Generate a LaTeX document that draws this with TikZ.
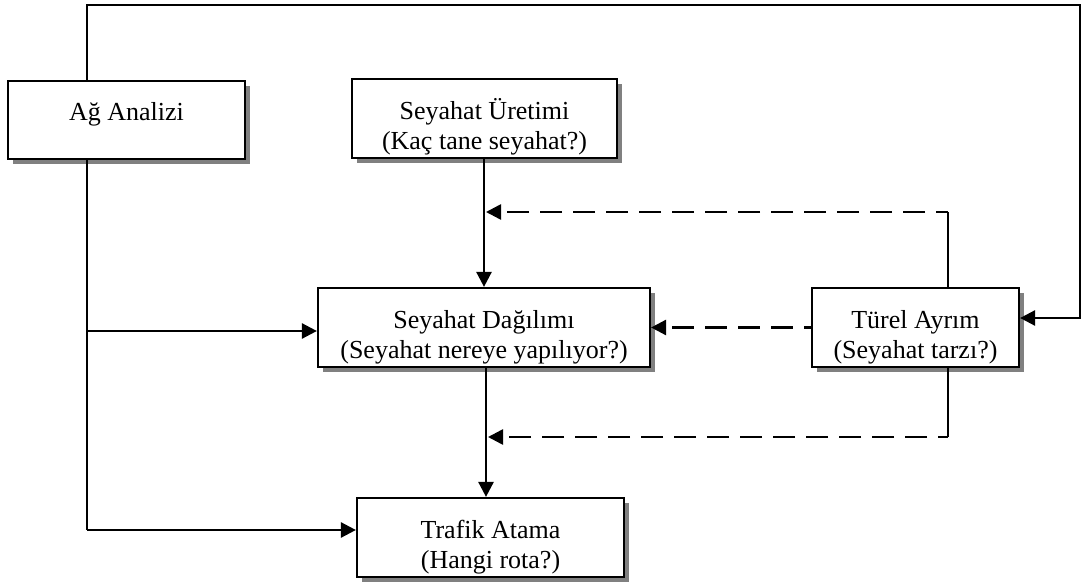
\documentclass[tikz,border=0pt]{standalone}
\usepackage{fontspec}
\setmainfont{Liberation Serif}
\usetikzlibrary{arrows.meta,shadows,calc}

\tikzset{
  box/.style={draw=black, line width=2.2pt, fill=white, inner sep=0pt,
    drop shadow={shadow xshift=5pt, shadow yshift=-5pt, fill=black!50, opacity=1}},
  txt/.style={anchor=base, inner sep=0pt, font=\fontsize{26}{30}\selectfont},
  link/.style={line width=2.6pt, -{Triangle[length=15pt,width=15pt]}},
  plain/.style={line width=2.6pt},
  dashlink/.style={link, dash pattern=on 22pt off 11pt},
}

\begin{document}
\begin{tikzpicture}[x=1pt, y=-1pt]
  \useasboundingbox (0,0) rectangle (1084,585);

  % boxes
  \node[box, minimum width=237pt, minimum height=78pt] (ag)   at (126.5,120)   {};
  \node[box, minimum width=265pt, minimum height=79pt] (uret) at (484.5,118.5) {};
  \node[box, minimum width=332pt, minimum height=79pt] (dag)  at (484,327.5)   {};
  \node[box, minimum width=207pt, minimum height=79pt] (tur)  at (915.5,327.5) {};
  \node[box, minimum width=267pt, minimum height=79pt] (traf) at (490.5,537.5) {};

  % labels
  \node[txt] (agA)   at ($(ag.north)+(0,41)$)   {Ağ Analizi};
  \node[txt] (uretA) at ($(uret.north)+(0,42)$) {Seyahat Üretimi};
  \node[txt] (uretB) at ($(uret.north)+(0,72)$) {(Kaç tane seyahat?)};
  \node[txt] (dagA)  at ($(dag.north)+(0,42)$)  {Seyahat Dağılımı};
  \node[txt] (dagB)  at ($(dag.north)+(0,72)$)  {(Seyahat nereye yapılıyor?)};
  \node[txt] (turA)  at ($(tur.north)+(0,42)$)  {Türel Ayrım};
  \node[txt] (turB)  at ($(tur.north)+(0,72)$)  {(Seyahat tarzı?)};
  \node[txt] (trafA) at ($(traf.north)+(0,42)$) {Trafik Atama};
  \node[txt] (trafB) at ($(traf.north)+(0,72)$) {(Hangi rota?)};

  % routing points
  \coordinate (agTop)   at (87,81);
  \coordinate (agBot)   at (87,159);
  \coordinate (topL)    at (87,5);
  \coordinate (topR)    at (1080,5);
  \coordinate (sideR)   at (1080,318);
  \coordinate (turIn)   at (tur.east |- sideR);
  \coordinate (branchD) at (87,331);
  \coordinate (branchT) at (87,530);
  \coordinate (turN)    at (948,288);
  \coordinate (turS)    at (948,367);
  \coordinate (upCorner)  at (948,212);
  \coordinate (upTip)     at (486,212);
  \coordinate (lowCorner) at (948,437);
  \coordinate (lowTip)    at (488,437);

  % feedback loop from network analysis to modal split
  \draw[link, line join=miter] (agTop) -- (topL) -- (topR) -- (sideR) -- (turIn);

  % network analysis feeds distribution and assignment
  \draw[plain] (agBot) -- (branchT);
  \draw[link] (branchD) -- (branchD -| dag.west);
  \draw[link] (branchT) -- (branchT -| traf.west);

  % main sequence
  \draw[link] (uret.south -| 484,0) -- (dag.north -| 484,0);
  \draw[link] (dag.south -| 486,0) -- (traf.north -| 486,0);

  % modal split influences
  \draw[plain] (turN) -- (upCorner);
  \draw[dashlink, dash phase=10pt] (upCorner) -- (upTip);
  \draw[dashlink, dash phase=15pt] (tur.west) -- (dag.east);
  \draw[plain] (turS) -- (lowCorner);
  \draw[dashlink, dash phase=12pt] (lowCorner) -- (lowTip);
\end{tikzpicture}
\end{document}
